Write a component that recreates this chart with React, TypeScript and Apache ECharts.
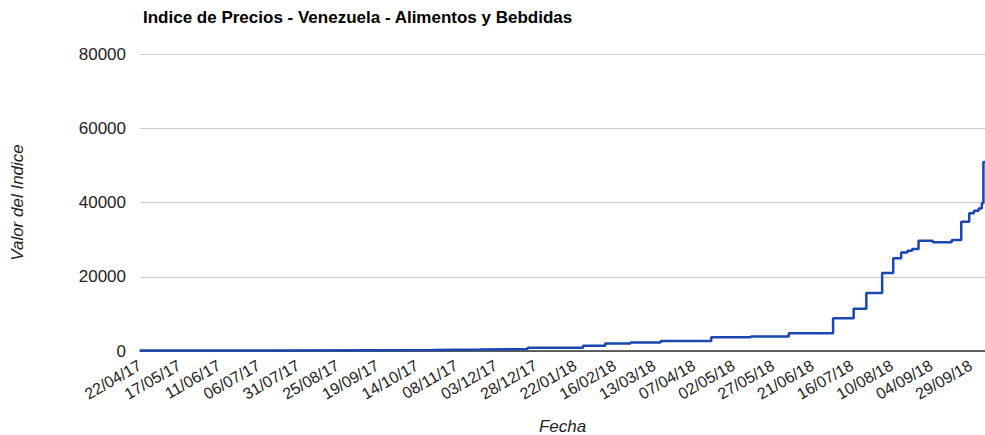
import { useEffect, useRef } from 'react';
import * as echarts from 'echarts';

const startDate = '22/04/17';
const endDate = '08/10/18';
const changeDates = [
  '22/04/17', '13/07/17', '16/09/17', '24/10/17', '23/11/17', '23/12/17', '27/01/18', '10/02/18',
  '26/02/18', '17/03/18', '18/04/18', '13/05/18', '06/06/18', '04/07/18', '17/07/18', '25/07/18',
  '04/08/18', '11/08/18', '16/08/18', '20/08/18', '23/08/18', '27/08/18', '05/09/18', '17/09/18',
  '23/09/18', '28/09/18', '01/10/18', '04/10/18', '06/10/18', '07/10/18', '08/10/18',
];
const indexValues = [
  150, 220, 300, 400, 550, 900, 1400, 2000,
  2300, 2700, 3700, 3900, 4800, 8800, 11400, 15600,
  21000, 25000, 26500, 27000, 27500, 29700, 29300, 29900,
  34800, 37100, 37800, 38400, 39800, 50900, 50900,
];
const yTicks = [0, 20000, 40000, 60000, 80000];
const labelStepDays = 25;

const DAY = 86400000;
const parse = (s: string) => {
  const [d, m, y] = s.split('/').map(Number);
  return Date.UTC(2000 + y, m - 1, d);
};
const t0 = parse(startDate);
const toDay = (s: string) => Math.round((parse(s) - t0) / DAY);
const fmt = (day: number) => {
  const dt = new Date(t0 + day * DAY);
  const dd = String(dt.getUTCDate()).padStart(2, '0');
  const mm = String(dt.getUTCMonth() + 1).padStart(2, '0');
  const yy = String(dt.getUTCFullYear() % 100).padStart(2, '0');
  return `${dd}/${mm}/${yy}`;
};

const FONT = '"Liberation Sans", Arial, sans-serif';

export default function App() {
  const ref = useRef<HTMLDivElement>(null);
  useEffect(() => {
    if (!ref.current) return;
    const chart = echarts.init(ref.current, null, { renderer: 'svg' });
    const data = changeDates.map((d, i) => [toDay(d), indexValues[i]]);
    chart.setOption({
      animation: false,
      title: {
        text: 'Indice de Precios - Venezuela - Alimentos y Bebdidas',
        left: 138,
        top: 4,
        textStyle: { fontFamily: FONT, fontSize: 17, fontWeight: 'bold', color: '#000' },
      },
      grid: { left: 140, right: 0, top: 54, bottom: 84, containLabel: false, outerBoundsMode: 'none' },
      xAxis: {
        type: 'value',
        min: 0,
        max: toDay(endDate),
        interval: labelStepDays,
        name: 'Fecha',
        nameLocation: 'middle',
        nameGap: 67,
        nameMoveOverlap: false,
        nameTextStyle: { fontFamily: FONT, fontSize: 17, fontStyle: 'italic', color: '#222' },
        axisLine: { show: true, lineStyle: { color: '#333', width: 1.5 } },
        axisTick: { show: false },
        splitLine: { show: false },
        axisLabel: {
          rotate: 30,
          margin: 13,
          fontFamily: FONT,
          fontSize: 16,
          color: '#222',
          showMaxLabel: false,
          formatter: (v: number) => (v % labelStepDays === 0 ? fmt(v) : ''),
        },
      },
      yAxis: {
        type: 'value',
        min: yTicks[0],
        max: yTicks[yTicks.length - 1],
        interval: yTicks[1] - yTicks[0],
        name: 'Valor del Indice',
        nameLocation: 'middle',
        nameGap: 114,
        nameMoveOverlap: false,
        nameTextStyle: { fontFamily: FONT, fontSize: 17, fontStyle: 'italic', color: '#222' },
        axisLine: { show: false },
        axisTick: { show: false },
        splitLine: { lineStyle: { color: '#cccccc', width: 1 } },
        axisLabel: {
          margin: 14,
          fontFamily: FONT,
          fontSize: 17,
          color: '#222',
          formatter: (v: number) => String(v),
        },
      },
      series: [
        {
          type: 'line',
          step: 'end',
          data,
          showSymbol: false,
          lineStyle: { color: '#1a46b0', width: 2.5 },
          clip: true,
        },
      ],
    });
    return () => chart.dispose();
  }, []);
  return <div ref={ref} style={{ position: 'absolute', left: 0, top: 0, width: 985, height: 435 }} />;
}
